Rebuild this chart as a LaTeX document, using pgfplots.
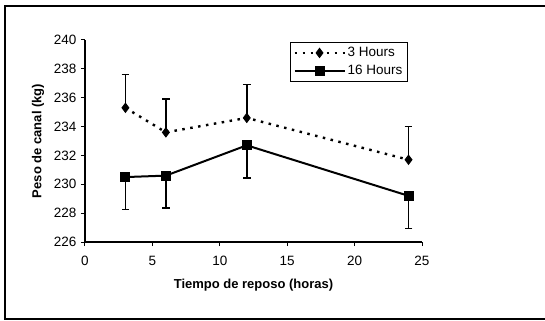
\documentclass[border=0pt]{standalone}
\usepackage{pgfplots}
\pgfplotsset{compat=1.18}
\usepackage{fontspec}
\setmainfont{Liberation Sans}
\begin{document}
\begin{tikzpicture}[x=1bp,y=1bp]
\begin{axis}[
  scale only axis, width=337bp, height=202bp,
  xmin=0, xmax=25, ymin=226, ymax=240,
  axis x line=bottom, axis y line=left,
  axis line style={-, line width=1.2bp},
  xtick={0,5,10,15,20,25},
  ytick={226,228,230,232,234,236,238,240},
  tick align=outside, major tick length=4bp,
  tick style={line width=1bp, black},
  /pgf/number format/assume math mode=true,
  ticklabel style={font=\fontsize{13.5bp}{15bp}\selectfont},
  xticklabel style={yshift=-7bp},
  yticklabel style={xshift=-1bp},
  xlabel={\bfseries Tiempo de reposo (horas)},
  ylabel={\bfseries Peso de canal (kg)},
  label style={font=\fontsize{13bp}{15bp}\selectfont},
  xlabel style={at={(axis description cs:0.5,-0.215)}, anchor=center},
  ylabel style={at={(axis description cs:-0.139,0.5)}, anchor=center},
  legend style={at={(0.608,0.99)}, anchor=north west, draw=black, line width=0.9bp,
    font=\fontsize{13.5bp}{15bp}\selectfont, inner xsep=3bp, inner ysep=3bp, row sep=3bp},
  legend cell align=left,
  legend image code/.code={\draw[mark repeat=2,mark phase=2] plot coordinates {(0bp,0bp)(25bp,0bp)(50bp,0bp)};},
  clip=false,
]
\coordinate (O) at (rel axis cs:0,0);
\addplot[black, line width=2.4bp, dash pattern=on 2.5bp off 5.5bp,
  mark=diamond*, mark size=4.5bp, mark options={solid, line width=1bp},
  error bars/.cd, y dir=plus, y explicit,
  error bar style={line width=1.5bp, solid},
  error mark options={rotate=90, mark size=3.8bp, line width=1.5bp, solid}]
  coordinates {
  (3,235.3) +- (0,2.3)
  (6,233.6) +- (0,2.3)
  (12,234.6) +- (0,2.3)
  (24,231.7) +- (0,2.3)
};
\addlegendentry{3 Hours}
\addplot[black, line width=2bp,
  mark=square*, mark size=4.5bp, mark options={solid, line width=1bp},
  error bars/.cd, y dir=minus, y explicit,
  error bar style={line width=1.5bp, solid},
  error mark options={rotate=90, mark size=3.8bp, line width=1.5bp, solid}]
  coordinates {
  (3,230.5) +- (0,2.25)
  (6,230.6) +- (0,2.25)
  (12,232.7) +- (0,2.25)
  (24,229.2) +- (0,2.25)
};
\addlegendentry{16 Hours}
\end{axis}
\pgfresetboundingbox
\useasboundingbox ([shift={(-85bp,-79bp)}]O) rectangle ([shift={(460bp,242bp)}]O);
\draw[line width=1.8bp] ([shift={(467bp,236bp)}]O) -- ([shift={(-80bp,236bp)}]O) -- ([shift={(-80bp,-77bp)}]O) -- ([shift={(467bp,-77bp)}]O);
\end{tikzpicture}
\end{document}
